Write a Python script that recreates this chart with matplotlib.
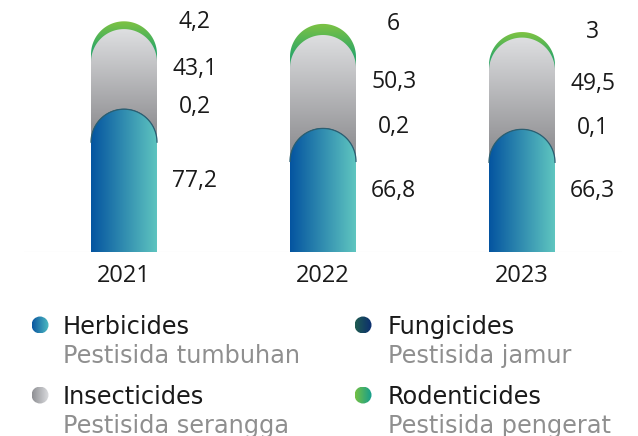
import numpy as np
import matplotlib
matplotlib.use("Agg")
import matplotlib.pyplot as plt
from matplotlib.path import Path
from matplotlib.patches import PathPatch, Circle
from matplotlib.colors import to_rgb
from matplotlib.transforms import offset_copy

plt.rcParams['font.family'] = ['Open Sans', 'DejaVu Sans']

years = ["2021", "2022", "2023"]
herbicides = [77.2, 66.8, 66.3]
fungicides = [0.2, 0.2, 0.1]
insecticides = [43.1, 50.3, 49.5]
rodenticides = [4.2, 6, 3]
labels_fmt = lambda v: (f"{v:g}").replace(".", ",")

legend_names = ["Herbicides", "Fungicides", "Insecticides", "Rodenticides"]
legend_sub = ["Pestisida tumbuhan", "Pestisida jamur", "Pestisida serangga", "Pestisida pengerat"]

W, H = 638, 436
fig = plt.figure(figsize=(W / 100, H / 100), dpi=100)
fig.patch.set_facecolor("white")

base_px = 252
px_per_unit = 1.85
ax = fig.add_axes([24 / W, (H - base_px) / H, 598 / W, base_px / H])
xpx = 199.0
xlim = ((24 - 124) / xpx, (622 - 124) / xpx)
ylim = (0, base_px / px_per_unit)
ax.axis("off")

bw = 66 / xpx
rx = bw / 2
ry = 33 / px_per_unit


def capsule(xc, top):
    x0, x1 = xc - rx, xc + rx
    t = np.linspace(0, np.pi, 60)
    arc = np.column_stack([xc + rx * np.cos(t), top - ry + ry * np.sin(t)])
    verts = np.vstack([[x0, 0], [x1, 0], [x1, top - ry], arc, [x0, top - ry], [x0, 0]])
    codes = [Path.MOVETO] + [Path.LINETO] * (len(verts) - 2) + [Path.CLOSEPOLY]
    return Path(verts, codes)


def hgrad(c0, c1, n=256):
    c0, c1 = np.array(to_rgb(c0)), np.array(to_rgb(c1))
    t = np.linspace(0, 1, n)
    return (c0[None, :] * (1 - t[:, None]) + c1[None, :] * t[:, None])[None, :, :]


def vgrad(c_top, c_bot, top, g_bot, n=400):
    """vertical gradient image from y=top down to 0; colour reaches c_bot at g_bot."""
    c0, c1 = np.array(to_rgb(c_top)), np.array(to_rgb(c_bot))
    y = np.linspace(top, 0, n)
    t = np.clip((top - y) / max(top - g_bot, 1e-6), 0, 1)
    return (c0[None, :] * (1 - t[:, None]) + c1[None, :] * t[:, None])[:, None, :]


def fill_capsule(xc, top, img, zorder):
    p = PathPatch(capsule(xc, top), facecolor="none", edgecolor="none", transform=ax.transData)
    ax.add_patch(p)
    im = ax.imshow(img, extent=(xc - rx, xc + rx, 0, top), aspect="auto", origin="upper",
                   interpolation="bilinear", zorder=zorder)
    im.set_clip_path(p)


for i in range(len(years)):
    h = herbicides[i]
    hf = h + fungicides[i]
    hfi = hf + insecticides[i]
    tot = hfi + rodenticides[i]
    # rodenticides (green)
    fill_capsule(i, tot, vgrad("#7ec343", "#2fa866", tot, hfi - ry * 0.6), 2)
    # insecticides (grey)
    fill_capsule(i, hfi, vgrad("#dedfe1", "#939396", hfi, h - ry * 0.5), 3)
    # fungicides (dark)
    fill_capsule(i, hf, hgrad("#1d5a5a", "#123a6a"), 4)
    # herbicides (blue gradient)
    fill_capsule(i, h, hgrad("#0454a0", "#5fc6c0"), 5)
    t = np.linspace(0, np.pi, 60)
    ax.plot(i + rx * np.cos(t), h - ry + ry * np.sin(t), color="#2b5f72", lw=0.9, zorder=6)

    lab_tr = offset_copy(ax.transData, fig=fig, x=0, y=-6.3, units="dots")
    lx = i + 0.355
    kw = dict(ha="center", va="baseline", fontsize=16.5, color="#1a1a1a", transform=lab_tr)
    ax.text(lx, h / 2, labels_fmt(h), **kw)
    ax.text(lx, hf + 1, labels_fmt(fungicides[i]), **kw)
    ax.text(lx, hf + insecticides[i] / 2, labels_fmt(insecticides[i]), **kw)
    ax.text(lx, tot, labels_fmt(rodenticides[i]), **kw)

    yr_tr = offset_copy(ax.transData, fig=fig, x=0, y=-30, units="dots")
    ax.text(i, 0, years[i], ha="center", va="baseline", fontsize=17,
            color="#1a1a1a", transform=yr_tr)

ax.axhline(-0.6, color="#d9d9d9", lw=2.2, zorder=1)
ax.set_xlim(*xlim)
ax.set_ylim(*ylim)

# legend overlay in pixel coordinates
ov = fig.add_axes([0, 0, 1, 1], zorder=-1)
ov.set_xlim(0, W)
ov.set_ylim(H, 0)
ov.axis("off")

leg_cols = [("#0a56a0", "#4fbcc2"), ("#1f5c50", "#0b2d70"),
            ("#8e8f93", "#dcdde0"), ("#74c044", "#139e8e")]
leg_pos = [(40, 325, 63), (363, 325, 388), (40, 395, 63), (363, 395, 388)]
rad = 8.5
leg_font = ['DejaVu Sans']
for (cx, cy, tx), (c0, c1), name, sub in zip(leg_pos, leg_cols, legend_names, legend_sub):
    circ = Circle((cx, cy), rad, facecolor="none", edgecolor="none")
    ov.add_patch(circ)
    im = ov.imshow(hgrad(c0, c1), extent=(cx - rad, cx + rad, cy + rad, cy - rad),
                   aspect="auto", interpolation="bilinear")
    im.set_clip_path(circ)
    ov.text(tx, cy + 8.5, name, ha="left", va="baseline", fontsize=17.3,
            color="#1a1a1a", family=leg_font)
    ov.text(tx, cy + 38, sub, ha="left", va="baseline", fontsize=17.3,
            color="#8f8f8f", family=leg_font)
ov.set_xlim(0, W)
ov.set_ylim(H, 0)

fig.savefig("out.png", dpi=100, facecolor="white")
